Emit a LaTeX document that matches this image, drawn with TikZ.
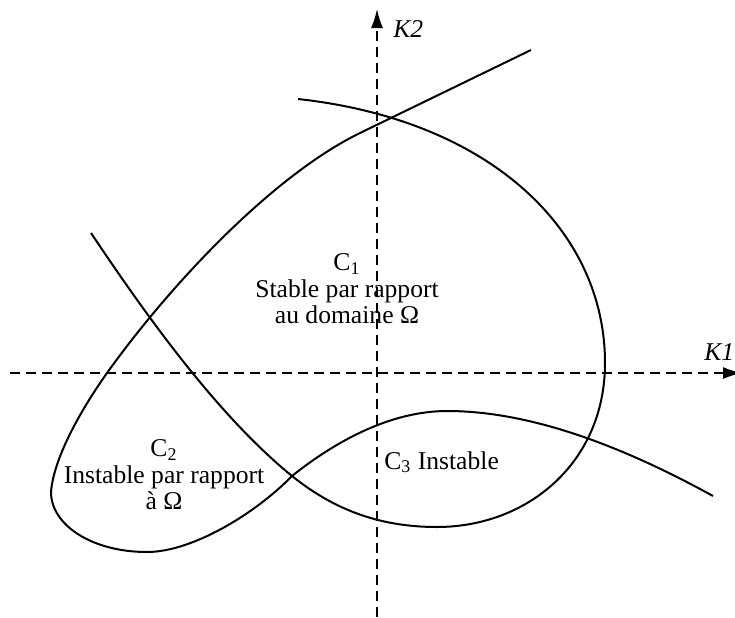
\documentclass[tikz,border=0pt]{standalone}
\usepackage{fontspec}
\setmainfont{Liberation Serif}
\usetikzlibrary{arrows.meta}

\begin{document}
\begin{tikzpicture}[x=0.5pt,y=-0.5pt,
    curva/.style={line width=1pt},
    eje/.style={line width=0.9pt, dash pattern=on 5pt off 3pt, -{Latex[length=9.5pt,width=6pt]}},
    texto/.style={font=\fontsize{12.8}{13.3}\selectfont, align=center, inner sep=0pt}]
  % Marco de la figura (en píxeles, y hacia abajo)
  \useasboundingbox (0,0) rectangle (735,617);

  % Ejes K1 y K2 (punteados)
  \coordinate (k1a) at (10,373);
  \coordinate (k1b) at (742,373);
  \coordinate (k2a) at (377,617);
  \coordinate (k2b) at (377,9);
  \draw[eje] (k1a) -- (k1b);
  \draw[eje] (k2a) -- (k2b);
  \node[texto, anchor=west] (lk1) at (704,352) {\textit{K1}};
  \node[texto, anchor=west] (lk2) at (393,29) {\textit{K2}};

  % Curva en S con lazo a la izquierda
  \draw[curva] (531,50) -- (360,133)
    .. controls (270,177) and (167,289) .. (107,373)
    .. controls (85,404) and (54,455) .. (51,492)
    .. controls (51,525) and (92,552) .. (147,552)
    .. controls (192,552) and (255,514) .. (292,476)
    .. controls (337,440) and (392,411) .. (447,411)
    .. controls (537,411) and (633,452) .. (713,496);

  % Curva en forma de C (frontera derecha)
  \draw[curva] (298,99)
    .. controls (490,120) and (605,230) .. (605,363)
    .. controls (605,463) and (527,527) .. (437,527)
    .. controls (377,527) and (332,508) .. (292,476)
    .. controls (212,411) and (136,300) .. (91,233);

  % Etiquetas de las regiones
  \node[texto] (c1) at (347,289) {C\textsubscript{1}\\Stable par rapport\\au domaine Ω};
  \node[texto] (c2) at (164,475) {C\textsubscript{2}\\Instable par rapport\\à Ω};
  \node[texto, anchor=west] (c3) at (384,462) {C\textsubscript{3} Instable};
\end{tikzpicture}
\end{document}
